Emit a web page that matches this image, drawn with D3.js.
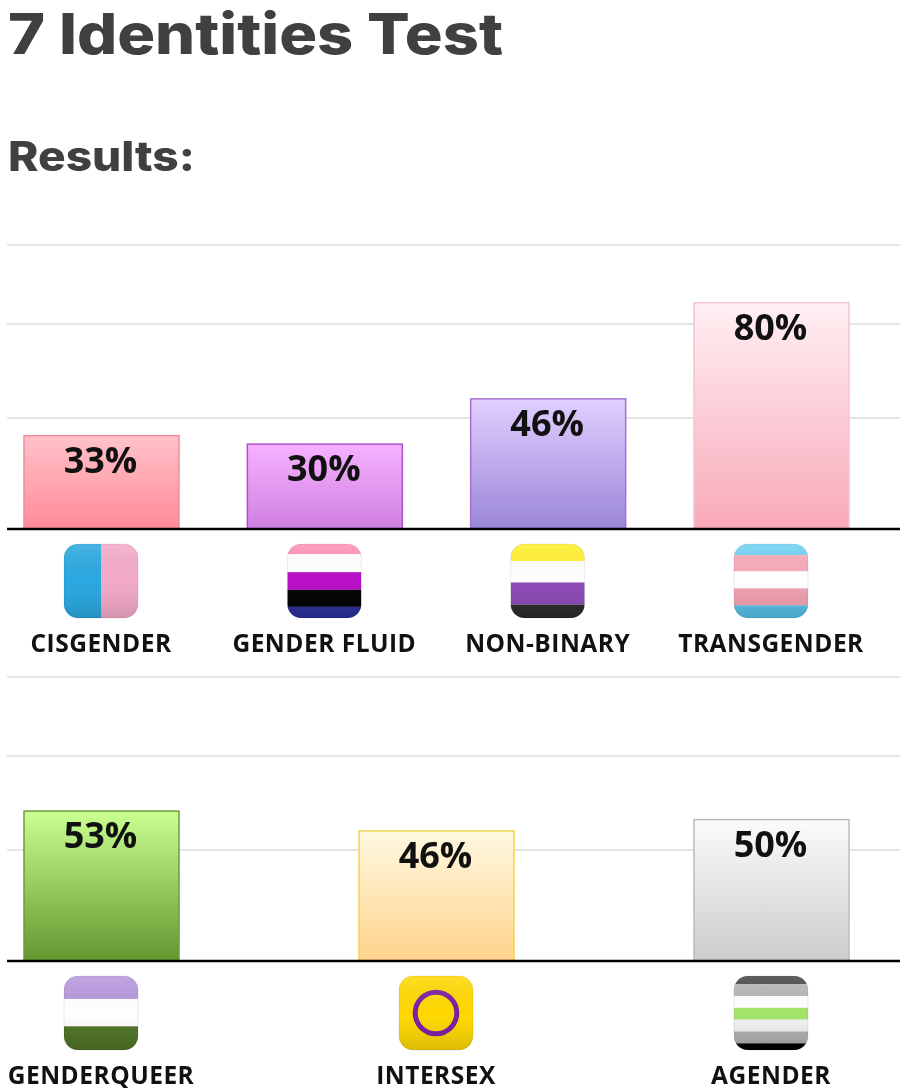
<!DOCTYPE html>
<html>
<head>
<meta charset="utf-8">
<script src="https://cdn.jsdelivr.net/npm/d3@7"></script>
<style>
  html, body { margin: 0; padding: 0; background: #fff; }
  svg { filter: blur(0.4px); }
  .heading { font-family: Inter, sans-serif; font-weight: 800; fill: #404040; }
  .value { font-family: "Open Sans", sans-serif; font-weight: 700; font-size: 36px; fill: #111; text-anchor: middle; }
  .tick text { font-family: "Open Sans", sans-serif; font-weight: 700; font-size: 24.5px; letter-spacing: 0.5px; fill: #111; }
</style>
</head>
<body>
<div id="chart"></div>
<script>
const svgWidth = 900;
const svgHeight = 1092;

// data
const topNames = ["CISGENDER", "GENDER FLUID", "NON-BINARY", "TRANSGENDER"];
const topValues = [33, 30, 46, 80];
const bottomNames = ["GENDERQUEER", "INTERSEX", "AGENDER"];
const bottomValues = [53, 46, 50];
const gridValues = [39.2, 72.5, 100.4];

// top colour, bottom colour, border
const barColors = {
  "CISGENDER": ["#ffc2ca", "#ff8b97", "#f08c9c"],
  "GENDER FLUID": ["#f6b2ff", "#cf7fe0", "#b050cf"],
  "NON-BINARY": ["#e2cfff", "#9a86d8", "#a272d2"],
  "TRANSGENDER": ["#fff0f3", "#f8a9ba", "#f6c2ce"],
  "GENDERQUEER": ["#caff92", "#64962f", "#6c9c3c"],
  "INTERSEX": ["#fff9e2", "#ffd28a", "#f2d452"],
  "AGENDER": ["#fbfbfb", "#cccccc", "#bcbcbc"]
};

// flag stripes, colour + share of the icon height
const flagStripes = {
  "GENDER FLUID": [["#ff8fb4", .14], ["#ffffff", .24], ["#b70fc6", .24], ["#000000", .23], ["#2a2f9c", .15]],
  "NON-BINARY": [["#fff02a", .23], ["#ffffff", .29], ["#8e4ab8", .30], ["#2a2a2a", .18]],
  "TRANSGENDER": [["#6ed0f2", .15], ["#f7a8b8", .22], ["#ffffff", .23], ["#f0a0b0", .23], ["#55c0e8", .17]],
  "GENDERQUEER": [["#b797dc", .31], ["#ffffff", .37], ["#4f7426", .32]],
  "AGENDER": [["#444444", .11], ["#b5b5b5", .16], ["#ffffff", .16], ["#a4e36a", .16], ["#f2f2f2", .16], ["#b0b0b0", .16], ["#000000", .09]]
};

const svg = d3.select("#chart")
  .append("svg")
  .attr("width", svgWidth)
  .attr("height", svgHeight)
  .style("display", "block");

const defs = svg.append("defs");

// shading laid over each flag
const gloss = defs.append("linearGradient")
  .attr("id", "gloss")
  .attr("x1", 0).attr("y1", 0).attr("x2", 0).attr("y2", 1);
gloss.append("stop").attr("offset", "0%").attr("stop-color", "#fff").attr("stop-opacity", 0.15);
gloss.append("stop").attr("offset", "50%").attr("stop-color", "#888").attr("stop-opacity", 0);
gloss.append("stop").attr("offset", "100%").attr("stop-color", "#000").attr("stop-opacity", 0.14);

svg.append("text").attr("class", "heading")
  .attr("x", 8).attr("y", 54)
  .attr("font-size", 56)
  .attr("textLength", 495).attr("lengthAdjust", "spacingAndGlyphs")
  .text("7 Identities Test");

svg.append("text").attr("class", "heading")
  .attr("x", 8).attr("y", 171)
  .attr("font-size", 41)
  .attr("textLength", 187).attr("lengthAdjust", "spacingAndGlyphs")
  .text("Results:");

const barWidth = 155;
const iconSize = 74;
const chartHeight = 284;

// same y scale on both charts
const yScale = d3.scaleLinear().domain([0, 100.4]).range([chartHeight, 0]);

function drawFlag(g, name, chartId, index) {
  const clipId = `clip-${chartId}-${index}`;
  defs.append("clipPath").attr("id", clipId)
    .append("rect")
    .attr("width", iconSize).attr("height", iconSize).attr("rx", 14);

  const flag = g.append("g").attr("clip-path", `url(#${clipId})`);

  if (name === "CISGENDER") {
    flag.append("rect").attr("width", iconSize / 2).attr("height", iconSize).attr("fill", "#29a8e0");
    flag.append("rect").attr("x", iconSize / 2).attr("width", iconSize / 2).attr("height", iconSize).attr("fill", "#f3a9c8");
  } else if (name === "INTERSEX") {
    flag.append("rect").attr("width", iconSize).attr("height", iconSize).attr("fill", "#ffd800");
    flag.append("circle")
      .attr("cx", iconSize / 2).attr("cy", iconSize / 2).attr("r", 20.8)
      .attr("fill", "none").attr("stroke", "#7a1fa2").attr("stroke-width", 5);
  } else {
    let offset = 0;
    flagStripes[name].forEach(function(s) {
      flag.append("rect")
        .attr("y", offset * iconSize)
        .attr("width", iconSize).attr("height", s[1] * iconSize)
        .attr("fill", s[0]);
      offset += s[1];
    });
  }

  flag.append("rect").attr("width", iconSize).attr("height", iconSize).attr("fill", "url(#gloss)");
  g.append("rect")
    .attr("width", iconSize).attr("height", iconSize).attr("rx", 14)
    .attr("fill", "none").attr("stroke", "#000").attr("stroke-opacity", 0.08);
}

function drawChart(names, values, top, chartId) {
  const g = svg.append("g").attr("transform", `translate(0, ${top})`);
  const xScale = d3.scalePoint().domain(names).range([101.5, 771.5]);

  g.selectAll(".grid")
    .data(gridValues)
    .enter()
    .append("line")
    .attr("x1", 7).attr("x2", svgWidth)
    .attr("y1", d => yScale(d)).attr("y2", d => yScale(d))
    .attr("stroke", "#dcdcdc").attr("stroke-width", 1.5);

  names.forEach(function(name) {
    const grad = defs.append("linearGradient")
      .attr("id", `grad-${chartId}-${names.indexOf(name)}`)
      .attr("x1", 0).attr("y1", 0).attr("x2", 0).attr("y2", 1);
    grad.append("stop").attr("offset", "0%").attr("stop-color", barColors[name][0]);
    grad.append("stop").attr("offset", "100%").attr("stop-color", barColors[name][1]);
  });

  g.selectAll(".bar")
    .data(values)
    .enter()
    .append("rect")
    .attr("x", (d, i) => xScale(names[i]) - barWidth / 2)
    .attr("y", d => yScale(d))
    .attr("width", barWidth)
    .attr("height", d => chartHeight - yScale(d))
    .attr("fill", (d, i) => `url(#grad-${chartId}-${i})`)
    .attr("stroke", (d, i) => barColors[names[i]][2])
    .attr("stroke-width", 1.5);

  g.selectAll(".value")
    .data(values)
    .enter()
    .append("text")
    .attr("class", "value")
    .attr("x", (d, i) => xScale(names[i]) - 1)
    .attr("y", d => yScale(d) + 37)
    .text(d => d + "%");

  // category labels sit under the flags
  const axis = g.append("g")
    .attr("transform", `translate(-1, ${chartHeight})`)
    .call(d3.axisBottom(xScale).tickSize(0).tickPadding(106));
  axis.select(".domain").remove();

  g.append("line")
    .attr("x1", 7).attr("x2", svgWidth)
    .attr("y1", chartHeight).attr("y2", chartHeight)
    .attr("stroke", "#000").attr("stroke-width", 2.5);

  names.forEach(function(name, i) {
    const flagGroup = g.append("g")
      .attr("transform", `translate(${xScale(name) - iconSize / 2 - 0.5}, ${chartHeight + 15})`);
    drawFlag(flagGroup, name, chartId, i);
  });
}

drawChart(topNames, topValues, 245, "top");
drawChart(bottomNames, bottomValues, 677, "bottom");
</script>
</body>
</html>
